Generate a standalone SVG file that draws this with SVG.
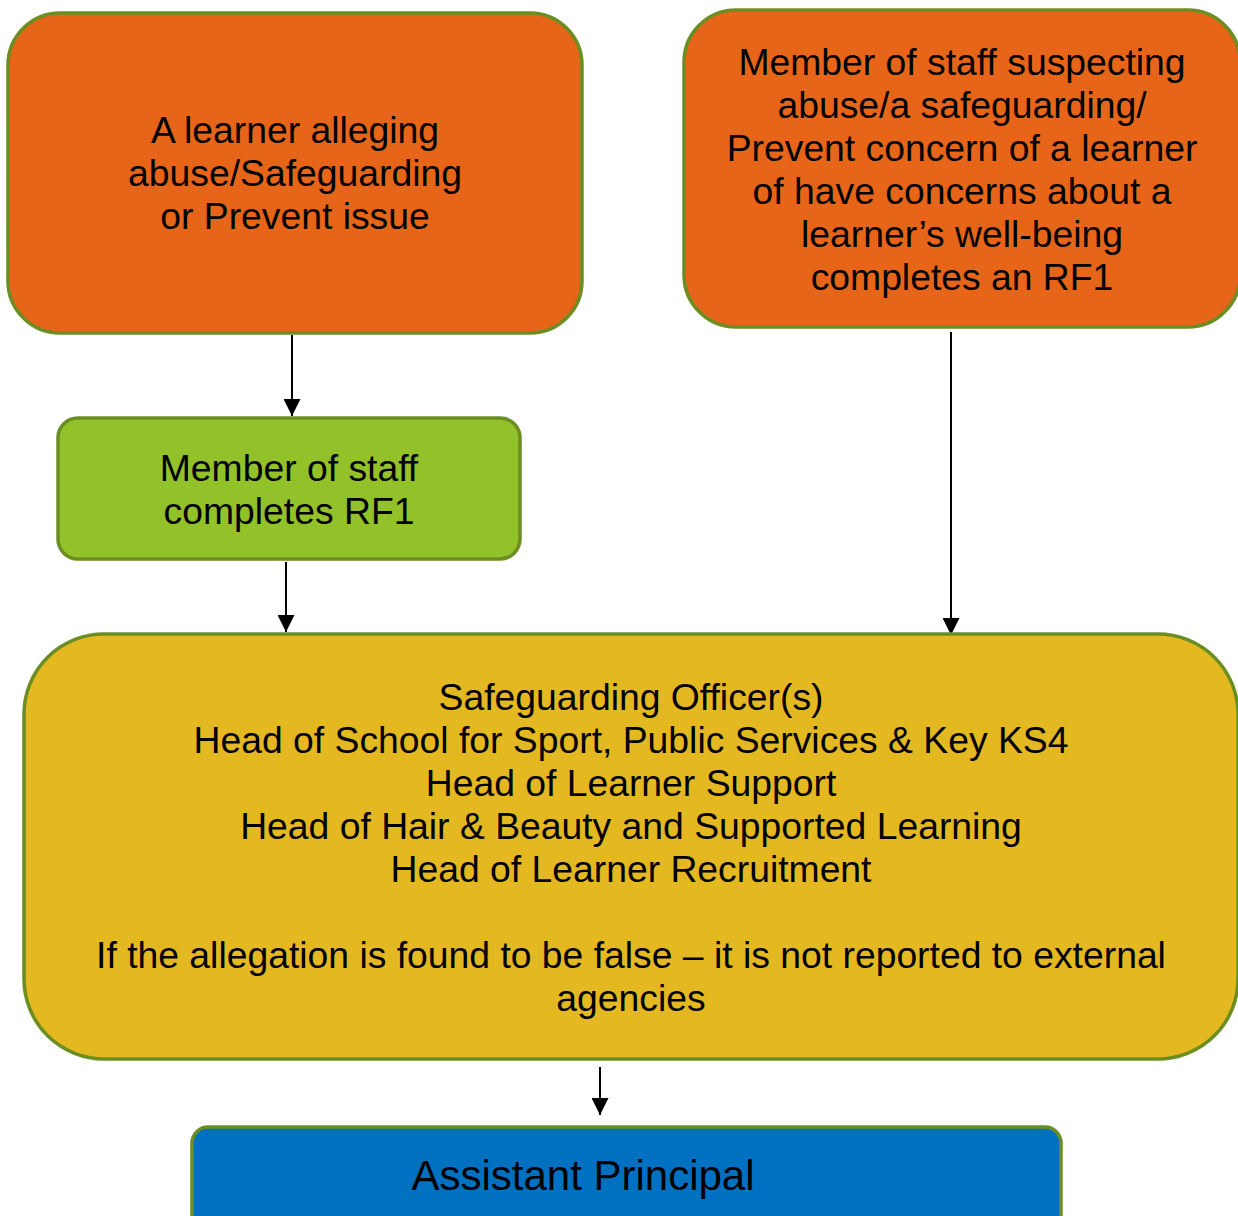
<svg xmlns="http://www.w3.org/2000/svg" width="1238" height="1216" viewBox="0 0 1238 1216">
<defs>
<marker id="ah" viewBox="0 0 10 10" refX="10" refY="5" markerWidth="17" markerHeight="17" markerUnits="userSpaceOnUse" orient="auto">
<path d="M0,0 L10,5 L0,10 z" fill="#000"/>
</marker>
<style>
.box{stroke:#6b8e23;stroke-width:3.5}
.t{font-family:"Liberation Sans",Arial,sans-serif;font-size:37.3px;fill:#000;text-anchor:middle}
.c{stroke:#000;stroke-width:2;fill:none;marker-end:url(#ah)}
</style>
</defs>
<rect width="1238" height="1216" fill="#fff"/>
<g id="connectors">
<line class="c" x1="292" y1="335" x2="292" y2="416"/>
<line class="c" x1="286" y1="562" x2="286" y2="632"/>
<line class="c" x1="951" y1="332" x2="951" y2="635"/>
<line class="c" x1="600" y1="1067" x2="600" y2="1115"/>
</g>
<g id="learner">
<rect class="box" x="8" y="13" width="574" height="320" rx="52" fill="#e66518"/>
<text class="t" x="295" y="143">A learner alleging</text>
<text class="t" x="295" y="186">abuse/Safeguarding</text>
<text class="t" x="295" y="229">or Prevent issue</text>
</g>
<g id="staffsuspecting">
<rect class="box" x="684" y="10" width="556" height="317" rx="52" fill="#e66518"/>
<text class="t" x="962" y="75">Member of staff suspecting</text>
<text class="t" x="962" y="118">abuse/a safeguarding/</text>
<text class="t" x="962" y="161">Prevent concern of a learner</text>
<text class="t" x="962" y="204">of have concerns about a</text>
<text class="t" x="962" y="247">learner’s well-being</text>
<text class="t" x="962" y="290">completes an RF1</text>
</g>
<g id="staffrf1">
<rect class="box" x="58" y="418" width="462" height="141" rx="20" fill="#92c12a"/>
<text class="t" x="289" y="481">Member of staff</text>
<text class="t" x="289" y="524">completes RF1</text>
</g>
<g id="officers">
<rect class="box" x="24" y="634" width="1214" height="425" rx="80" fill="#e4b820"/>
<text class="t" x="631" y="710">Safeguarding Officer(s)</text>
<text class="t" x="631" y="753">Head of School for Sport, Public Services &amp; Key KS4</text>
<text class="t" x="631" y="796">Head of Learner Support</text>
<text class="t" x="631" y="839">Head of Hair &amp; Beauty and Supported Learning</text>
<text class="t" x="631" y="882">Head of Learner Recruitment</text>
<text class="t" x="631" y="968">If the allegation is found to be false – it is not reported to external</text>
<text class="t" x="631" y="1011">agencies</text>
</g>
<g id="assistant">
<rect class="box" x="192" y="1127" width="869" height="120" rx="16" fill="#0070c0"/>
<text class="t" x="583" y="1190" style="font-size:42px">Assistant Principal</text>
</g>
</svg>
